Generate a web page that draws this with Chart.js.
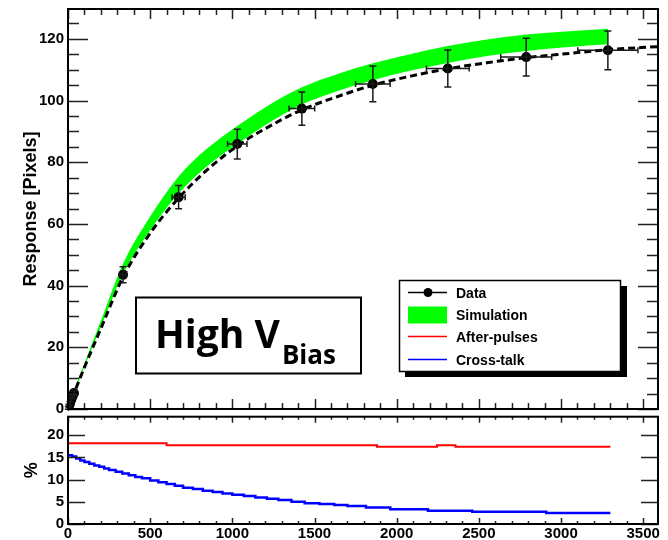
<!DOCTYPE html>
<html>
<head>
<meta charset="utf-8">
<script src="https://cdn.jsdelivr.net/npm/chart.js@4"></script>
<style>
  body { margin: 0; background: #fff; }
  #wrap { position: relative; width: 668px; height: 540px; }
  canvas { position: absolute; left: 0; top: 0; }
</style>
</head>
<body>
<div id="wrap">
  <canvas id="chartRatio" width="668" height="540"></canvas>
  <canvas id="chartResponse" width="668" height="540"></canvas>
</div>
<script>
// measured points (black markers)
const dataX    = [2, 6, 12, 20, 28, 36, 335, 673, 1030, 1423, 1855, 2311, 2788, 3285];
const dataY    = [0.4, 1.0, 1.8, 3.0, 4.1, 5.2, 43.5, 68.7, 85.9, 97.4, 105.4, 110.4, 114.1, 116.3];
const dataErrX = [1, 1, 1, 1, 2, 2, 19, 40, 59, 78, 105, 130, 155, 183];
const dataErrY = [0.5, 0.5, 0.6, 0.7, 0.8, 0.9, 2.6, 3.8, 4.8, 5.4, 5.8, 6.0, 6.1, 6.3];

// dashed fit curve
const fitX = [0, 50, 100, 200, 335, 500, 673, 850, 1030, 1200, 1423, 1650, 1855, 2100, 2311, 2550, 2788, 3050, 3285, 3590];
const fitY = [0, 6.9, 13.5, 26.1, 42.8, 57, 68.4, 77.7, 85.3, 90.9, 97, 101.5, 105, 108.1, 110.3, 112.3, 113.9, 115.3, 116.5, 117.5];

// simulation band (green)
const simX  = [0, 50, 100, 200, 335, 500, 673, 850, 1030, 1200, 1423, 1650, 1855, 2100, 2311, 2550, 2788, 3050, 3285];
const simHi = [0.2, 7.6, 14.8, 28.6, 47.1, 62.4, 75.4, 84.6, 91.8, 97.8, 104.3, 108.8, 112.1, 115.3, 117.7, 119.8, 121.4, 122.5, 123.3];
const simLo = [0, 6.8, 13.6, 26.6, 43.7, 58, 69.9, 78.9, 85.9, 92, 98.7, 103.3, 106.6, 109.9, 112.2, 114.5, 116.1, 117.4, 118.3];

// lower pad: after-pulses and cross-talk (%), step histograms
const apX = [0, 600, 1880, 2245, 2357, 3300];
const apY = [18.2, 17.75, 17.4, 17.75, 17.4, 17.4];
const ctX = [0, 25, 50, 75, 100, 130, 160, 190, 220, 250, 290, 330, 370, 410, 450, 500, 550, 600, 650, 700,
             760, 820, 880, 940, 1000, 1070, 1140, 1210, 1280, 1360, 1440, 1530, 1620, 1700, 1813, 1961, 2190, 2460, 2910, 3300];
const ctY = [15.5, 15.2, 14.8, 14.3, 14.0, 13.6, 13.2, 12.9, 12.5, 12.2, 11.8, 11.4, 11.0, 10.6, 10.3, 9.8, 9.4, 9.0, 8.6, 8.2,
             7.9, 7.5, 7.2, 6.9, 6.6, 6.3, 6.0, 5.7, 5.4, 5.0, 4.7, 4.5, 4.3, 4.05, 3.7, 3.35, 3.0, 2.75, 2.5, 2.5];

const xTicks = [0, 500, 1000, 1500, 2000, 2500, 3000, 3500];
const respTicks = [0, 20, 40, 60, 80, 100, 120];
const pctTicks = [0, 5, 10, 15, 20];

const FONT = "'Liberation Sans', Arial, sans-serif";
const pts = (xs, ys) => xs.map((x, i) => ({ x: x, y: ys[i] }));

// ROOT style frame with inward ticks on all four sides
function drawFrame(chart, t) {
  const { ctx, chartArea: a, scales: { x, y } } = chart;
  ctx.save();
  ctx.strokeStyle = '#222';
  ctx.lineWidth = 1.5;
  ctx.beginPath();
  for (let v = 0; v <= x.max; v += 100) {
    const px = Math.round(x.getPixelForValue(v)) + 0.5;
    const len = v % 500 === 0 ? t.xMajor : t.xMinor;
    ctx.moveTo(px, a.top); ctx.lineTo(px, a.top + len);
    ctx.moveTo(px, a.bottom); ctx.lineTo(px, a.bottom - len);
  }
  for (let v = 0; v <= y.max; v += t.yStep) {
    const py = Math.round(y.getPixelForValue(v)) + 0.5;
    const len = v % t.yMajorStep === 0 ? t.yMajor : t.yMinor;
    ctx.moveTo(a.left, py); ctx.lineTo(a.left + len, py);
    ctx.moveTo(a.right, py); ctx.lineTo(a.right - len, py);
  }
  ctx.stroke();
  ctx.strokeStyle = '#000';
  ctx.lineWidth = 2;
  ctx.strokeRect(a.left, a.top, a.right - a.left, a.bottom - a.top);
  ctx.restore();
}

const errorBars = {
  id: 'errorBars',
  afterDatasetsDraw(chart) {
    const { ctx, scales: { x, y } } = chart;
    ctx.save();
    ctx.strokeStyle = '#1a1a1a';
    ctx.lineWidth = 1.5;
    dataX.forEach((vx, i) => {
      const px = x.getPixelForValue(vx);
      const py = y.getPixelForValue(dataY[i]);
      const x0 = x.getPixelForValue(vx - dataErrX[i]);
      const x1 = x.getPixelForValue(vx + dataErrX[i]);
      const y0 = y.getPixelForValue(dataY[i] - dataErrY[i]);
      const y1 = y.getPixelForValue(dataY[i] + dataErrY[i]);
      ctx.beginPath();
      ctx.moveTo(px, y0); ctx.lineTo(px, y1);
      ctx.moveTo(px - 3.5, y0); ctx.lineTo(px + 3.5, y0);
      ctx.moveTo(px - 3.5, y1); ctx.lineTo(px + 3.5, y1);
      ctx.moveTo(x0, py); ctx.lineTo(x1, py);
      ctx.moveTo(x0, py - 3); ctx.lineTo(x0, py + 3);
      ctx.moveTo(x1, py - 3); ctx.lineTo(x1, py + 3);
      ctx.stroke();
    });
    ctx.restore();
  }
};

const responseDecor = {
  id: 'responseDecor',
  afterDraw(chart) {
    drawFrame(chart, { xMajor: 10, xMinor: 6, yStep: 5, yMajorStep: 20, yMajor: 20, yMinor: 11 });
    const ctx = chart.ctx;
    ctx.save();

    // legend box with shadow
    ctx.fillStyle = '#000';
    ctx.fillRect(405, 286, 222, 91);
    ctx.fillStyle = '#fff';
    ctx.fillRect(399.5, 280.5, 221, 91);
    ctx.strokeStyle = '#000';
    ctx.lineWidth = 1.5;
    ctx.strokeRect(399.5, 280.5, 221, 91);

    ctx.beginPath(); ctx.moveTo(408, 292.5); ctx.lineTo(447, 292.5); ctx.stroke();
    ctx.fillStyle = '#000';
    ctx.beginPath(); ctx.arc(428, 292.5, 4.5, 0, Math.PI * 2); ctx.fill();
    ctx.fillStyle = '#00ff00';
    ctx.fillRect(408, 306.5, 39, 17);
    ctx.strokeStyle = '#ff0000';
    ctx.beginPath(); ctx.moveTo(408, 336.5); ctx.lineTo(447, 336.5); ctx.stroke();
    ctx.strokeStyle = '#0000ff';
    ctx.beginPath(); ctx.moveTo(408, 359.5); ctx.lineTo(447, 359.5); ctx.stroke();

    ctx.fillStyle = '#000';
    ctx.font = 'bold 14px ' + FONT;
    ctx.textBaseline = 'alphabetic';
    ctx.fillText('Data', 456, 298);
    ctx.fillText('Simulation', 456, 320);
    ctx.fillText('After-pulses', 456, 342);
    ctx.fillText('Cross-talk', 456, 364.5);

    // "High V_Bias" label box
    ctx.fillStyle = '#fff';
    ctx.fillRect(136, 297.5, 225, 76);
    ctx.strokeStyle = '#000';
    ctx.lineWidth = 2;
    ctx.strokeRect(136, 297.5, 225, 76);
    ctx.fillStyle = '#000';
    ctx.font = "bold 39px 'Open Sans', sans-serif";
    ctx.fillText('High V', 155, 348);
    const w = ctx.measureText('High V').width;
    ctx.font = "bold 26px 'Open Sans', sans-serif";
    ctx.fillText('Bias', 155 + w + 2, 364);
    ctx.restore();
  }
};

const ratioDecor = {
  id: 'ratioDecor',
  afterDraw(chart) {
    drawFrame(chart, { xMajor: 6, xMinor: 3, yStep: 5, yMajorStep: 5, yMajor: 17, yMinor: 17 });
  }
};

const tickFont = { family: FONT, size: 15, weight: 'bold' };
const titleFont = { family: FONT, size: 18, weight: 'bold' };

new Chart(document.getElementById('chartResponse').getContext('2d'), {
  type: 'line',
  data: {
    datasets: [
      {
        label: 'Data',
        data: pts(dataX, dataY),
        showLine: false,
        pointRadius: 5,
        pointBackgroundColor: '#000',
        pointBorderColor: '#000',
        pointBorderWidth: 0
      },
      {
        label: 'Fit',
        data: pts(fitX, fitY),
        borderColor: '#000',
        borderWidth: 3,
        borderDash: [7, 4],
        pointRadius: 0,
        cubicInterpolationMode: 'monotone',
        fill: false
      },
      {
        label: 'Simulation',
        data: pts(simX, simHi),
        borderWidth: 0,
        borderColor: 'rgba(0,0,0,0)',
        backgroundColor: '#00ff00',
        pointRadius: 0,
        cubicInterpolationMode: 'monotone',
        fill: '+1'
      },
      {
        label: 'Simulation low',
        data: pts(simX, simLo),
        borderWidth: 0,
        borderColor: 'rgba(0,0,0,0)',
        pointRadius: 0,
        cubicInterpolationMode: 'monotone',
        fill: false
      }
    ]
  },
  options: {
    responsive: false,
    animation: false,
    events: [],
    layout: { padding: { top: 9, right: 10, bottom: 131, left: 0 } },
    plugins: { legend: { display: false }, tooltip: { enabled: false } },
    scales: {
      x: { type: 'linear', min: 0, max: 3590, display: false },
      y: {
        type: 'linear', min: 0, max: 129.7,
        afterBuildTicks: s => { s.ticks = respTicks.map(v => ({ value: v })); },
        afterFit: s => { s.width = 68; s.paddingTop = 0; s.paddingBottom = 0; },
        grid: { display: false, drawTicks: false },
        border: { display: false },
        ticks: { padding: 4, color: '#000', font: tickFont },
        title: {
          display: true, text: 'Response [Pixels]', color: '#000',
          font: titleFont, padding: { top: 20, bottom: 0 }
        }
      }
    }
  },
  plugins: [errorBars, responseDecor]
});

new Chart(document.getElementById('chartRatio').getContext('2d'), {
  type: 'line',
  data: {
    datasets: [
      {
        label: 'After-pulses',
        data: pts(apX, apY),
        borderColor: '#ff0000',
        borderWidth: 2,
        pointRadius: 0,
        stepped: 'before',
        fill: false
      },
      {
        label: 'Cross-talk',
        data: pts(ctX, ctY),
        borderColor: '#0000ff',
        borderWidth: 2.5,
        pointRadius: 0,
        stepped: 'before',
        fill: false
      }
    ]
  },
  options: {
    responsive: false,
    animation: false,
    events: [],
    layout: { padding: { top: 416.7, right: 10, bottom: 0, left: 0 } },
    plugins: { legend: { display: false }, tooltip: { enabled: false } },
    scales: {
      x: {
        type: 'linear', min: 0, max: 3590,
        afterBuildTicks: s => { s.ticks = xTicks.map(v => ({ value: v })); },
        afterFit: s => { s.height = 16; s.paddingLeft = 0; s.paddingRight = 0; },
        grid: { display: false, drawTicks: false },
        border: { display: false },
        ticks: { padding: 1, color: '#000', font: tickFont, maxRotation: 0, autoSkip: false, callback: v => String(v) }
      },
      y: {
        type: 'linear', min: 0, max: 24.2,
        afterBuildTicks: s => { s.ticks = pctTicks.map(v => ({ value: v })); },
        afterFit: s => { s.width = 68; s.paddingTop = 0; s.paddingBottom = 0; },
        grid: { display: false, drawTicks: false },
        border: { display: false },
        ticks: { padding: 4, color: '#000', font: tickFont },
        title: {
          display: true, text: '%', color: '#000',
          font: titleFont, padding: { top: 21, bottom: 0 }
        }
      }
    }
  },
  plugins: [ratioDecor]
});
</script>
</body>
</html>
